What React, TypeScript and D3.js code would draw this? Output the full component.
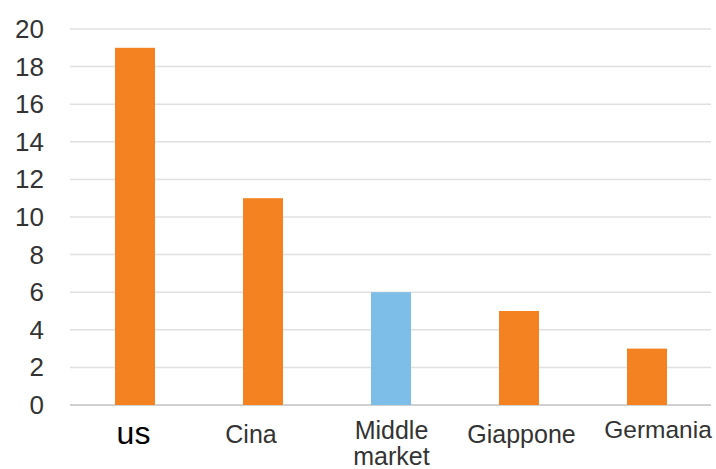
import React from "react";
import * as d3 from "d3";

const categories = ["us", "Cina", "Middle market", "Giappone", "Germania"];
const values = [19, 11, 6, 5, 3];
const highlight = [false, false, true, false, false];
const yTicks = [0, 2, 4, 6, 8, 10, 12, 14, 16, 18, 20];

const W = 716;
const H = 469;
const ORANGE = "#F58220";
const BLUE = "#7DBEE9";

// label layout tweaks (offset from band centre, baseline)
const labelLayout: Record<string, { dx: number; y: number; size: number; color: string }> = {
  us: { dx: -1.5, y: 444, size: 32, color: "#000" },
  Cina: { dx: -12, y: 443, size: 25, color: "#333" },
  "Middle market": { dx: 0.5, y: 439, size: 25, color: "#333" },
  Giappone: { dx: 2.5, y: 443, size: 25, color: "#333" },
  Germania: { dx: 11, y: 438, size: 24.5, color: "#333" },
};

export default function App() {
  const x = d3
    .scaleBand<string>()
    .domain(categories)
    .range([71, 711])
    .paddingInner(0.6875)
    .paddingOuter(0.34375);
  const y = d3.scaleLinear().domain([0, 20]).range([405, 29]);
  const font = "'Liberation Sans', Arial, Helvetica, sans-serif";

  return (
    <svg
      width={W}
      height={H}
      style={{ position: "absolute", left: 0, top: 0, background: "#fff" }}
      fontFamily={font}
    >
      {yTicks.map((t) => (
        <g key={t}>
          <line
            x1={70}
            x2={711}
            y1={y(t)}
            y2={y(t)}
            stroke={t === 0 ? "#d0d0d0" : "#e0e0e0"}
            strokeWidth={t === 0 ? 2 : 1.5}
          />
          <text
            x={44}
            y={y(t) + 9}
            textAnchor="end"
            fontSize={26}
            fill="#333"
          >
            {t}
          </text>
        </g>
      ))}
      {categories.map((c, i) => (
        <rect
          key={c}
          x={x(c)}
          y={y(values[i])}
          width={x.bandwidth()}
          height={y(0) - y(values[i])}
          fill={highlight[i] ? BLUE : ORANGE}
        />
      ))}
      {categories.map((c) => {
        const l = labelLayout[c];
        const cx = (x(c) as number) + x.bandwidth() / 2 + l.dx;
        const words = c === "Middle market" ? ["Middle", "market"] : [c];
        return (
          <text key={c} x={cx} y={l.y} textAnchor="middle" fontSize={l.size} fill={l.color}>
            {words.map((w, k) => (
              <tspan key={k} x={cx} dy={k === 0 ? 0 : 25.5}>
                {w}
              </tspan>
            ))}
          </text>
        );
      })}
    </svg>
  );
}
